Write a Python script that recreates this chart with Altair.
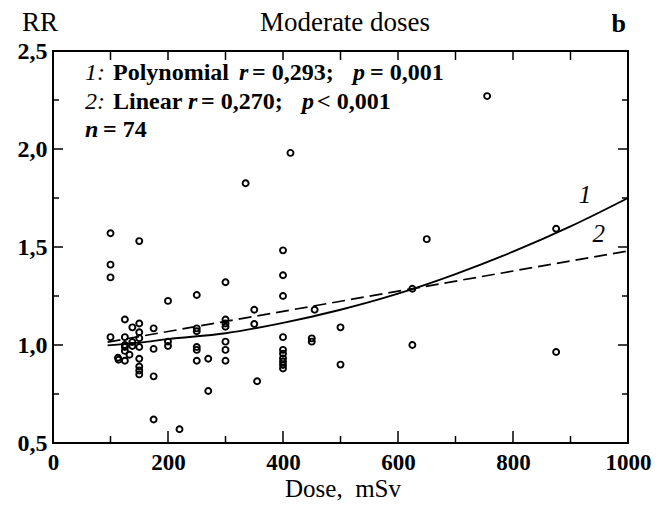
import altair as alt
import pandas as pd

# ---------------- data ----------------
dose = [100, 100, 100, 100, 150, 200, 250, 125, 138, 150,
        175, 125, 125, 125, 138, 150, 175, 200, 200, 250,
        250, 250, 250, 114, 125, 133, 150, 150, 150, 150,
        175, 175, 220, 270, 270, 413, 335, 400, 400, 400,
        300, 350, 300, 300, 300, 350, 455, 300, 300, 300,
        355, 400, 400, 400, 400, 400, 400, 450, 450, 650,
        625, 500, 500, 625, 875, 875, 755, 150, 150, 138,
        125, 113, 250, 400]
rr = [1.57, 1.41, 1.345, 1.04, 1.53, 1.225, 1.255, 1.13, 1.09, 1.11,
      1.085, 1.04, 0.99, 0.97, 0.995, 0.99, 0.98, 1.017, 0.995, 1.085,
      1.07, 0.975, 0.92, 0.925, 0.92, 0.95, 0.93, 0.89, 0.87, 0.85,
      0.84, 0.62, 0.57, 0.93, 0.765, 1.98, 1.825, 1.483, 1.356, 1.25,
      1.32, 1.18, 1.13, 1.11, 1.093, 1.107, 1.18, 1.017, 0.975, 0.92,
      0.815, 1.04, 0.975, 0.955, 0.932, 0.898, 0.88, 1.034, 1.017, 1.54,
      1.287, 1.09, 0.90, 1.0, 1.593, 0.964, 2.27, 1.065, 1.035, 1.015,
      1.0, 0.935, 0.99, 0.915]

poly_dose = [95, 150, 200, 300, 400, 500, 600, 700, 800, 900, 1000]
poly_rr = [0.998, 1.012, 1.03, 1.06, 1.113, 1.18, 1.262, 1.362, 1.476, 1.605, 1.75]

lin_dose = [95, 1000]
lin_rr = [1.015, 1.48]

curve_label = ["1", "2"]
curve_label_dose = [925, 949]
curve_label_rr = [1.765, 1.566]

x_labels = [0, 200, 400, 600, 800, 1000]
y_labels = [0.5, 1.0, 1.5, 2.0, 2.5]
x_major_ticks = [200, 400, 600, 800]
x_minor_ticks = [100, 300, 500, 700, 900]
y_major_ticks = [1.0, 1.5, 2.0]
y_minor_ticks = [0.75, 1.25, 1.75, 2.25]

title_text = "Moderate doses"
x_title = "Dose,\u00a0 mSv"
y_title = "RR"
panel_letter = "b"

# annotation pieces: (text, italic, bold)
ann_line1 = [("1:", True, False), ("Polynomial", False, True), ("r", True, True),
             ("= 0,293;", False, True), ("p", True, True), ("= 0,001", False, True)]
ann_line2 = [("2:", True, False), ("Linear", False, True), ("r", True, True),
             ("= 0,270;", False, True), ("p", True, True), ("< 0,001", False, True)]
ann_line3 = [("n", True, True), ("= 74", False, True)]

# ---------------- layout ----------------
W, H = 575, 392
FONT = "Liberation Serif"
ann_x1 = [32, 60, 186, 199, 300, 317]
ann_x2 = [32, 60, 135, 148, 249, 264]
ann_x3 = [32, 50]
ann_y = [29, 58, 86]

xscale = alt.Scale(domain=[0, 1000], nice=False, zero=False)
yscale = alt.Scale(domain=[0.5, 2.5], nice=False, zero=False)

xaxis = alt.Axis(values=x_labels, ticks=False, domain=False, grid=False,
                 labelFont=FONT, labelFontSize=23, labelFontWeight="bold",
                 labelColor="black", labelPadding=8, labelFlush=False,
                 labelOverlap=False, title=None, labelExpr="toString(datum.value)")
yaxis = alt.Axis(values=y_labels, ticks=False, domain=False, grid=False,
                 labelFont=FONT, labelFontSize=24, labelFontWeight="bold",
                 labelColor="black", labelPadding=6, labelFlush=False,
                 labelOverlap=False, title=None,
                 labelExpr="replace(format(datum.value, '.1f'), '.', ',')")


def X(f):
    return alt.X(f, type="quantitative", scale=xscale, axis=xaxis)


def Y(f):
    return alt.Y(f, type="quantitative", scale=yscale, axis=yaxis)


pts_df = pd.DataFrame({"dose": dose, "rr": rr})
points = alt.Chart(pts_df).mark_point(shape="circle", filled=False, color="black",
                                      strokeWidth=1.9, size=36, opacity=1).encode(
    x=X("dose"), y=Y("rr"))

poly = alt.Chart(pd.DataFrame({"dose": poly_dose, "rr": poly_rr})).mark_line(
    color="black", strokeWidth=1.9, interpolate="monotone").encode(x=X("dose"), y=Y("rr"))

lin = alt.Chart(pd.DataFrame({"dose": lin_dose, "rr": lin_rr})).mark_line(
    color="black", strokeWidth=1.7, strokeDash=[13, 6]).encode(x=X("dose"), y=Y("rr"))

labels = alt.Chart(pd.DataFrame({"t": curve_label, "dose": curve_label_dose,
                                 "rr": curve_label_rr})).mark_text(
    font=FONT, fontSize=25, fontStyle="italic", color="black", baseline="middle").encode(
    x=X("dose"), y=Y("rr"), text="t:N")

tick_layers = []
for vals, ln in [(x_major_ticks, 12), (x_minor_ticks, 7)]:
    d = pd.DataFrame({"v": vals})
    tick_layers.append(alt.Chart(d).mark_rule(color="black", strokeWidth=1.5).encode(
        x=X("v"), y=alt.value(H), y2=alt.value(H - ln)))
tick_layers.append(alt.Chart(pd.DataFrame({"v": x_major_ticks + x_minor_ticks})).mark_rule(
    color="black", strokeWidth=1.5).encode(x=X("v"), y=alt.value(0), y2=alt.value(9)))
for vals, ln in [(y_major_ticks, 10), (y_minor_ticks, 6)]:
    d = pd.DataFrame({"v": vals})
    tick_layers.append(alt.Chart(d).mark_rule(color="black", strokeWidth=1.5).encode(
        y=Y("v"), x=alt.value(0), x2=alt.value(ln)))
    tick_layers.append(alt.Chart(d).mark_rule(color="black", strokeWidth=1.5).encode(
        y=Y("v"), x=alt.value(W), x2=alt.value(W - ln)))


def txt(s, x, y, size, italic=False, bold=False, align="left"):
    return alt.Chart(pd.DataFrame({"t": [s]})).mark_text(
        font=FONT, fontSize=size, fontStyle="italic" if italic else "normal",
        fontWeight="bold" if bold else "normal", align=align, baseline="alphabetic",
        color="black").encode(x=alt.value(x), y=alt.value(y), text="t:N")


text_layers = [
    txt(title_text, 292, -20, 27, align="center"),
    txt(y_title, -31, -20, 27),
    txt(panel_letter, 573, -19, 26, bold=True, align="right"),
    txt(x_title, 290, 446, 25, align="center"),
]

for line, xs, yy in [(ann_line1, ann_x1, ann_y[0]), (ann_line2, ann_x2, ann_y[1]),
                     (ann_line3, ann_x3, ann_y[2])]:
    for (s, it, bd), xx in zip(line, xs):
        text_layers.append(txt(s, xx, yy, 24, italic=it, bold=bd))

chart = alt.layer(points, poly, lin, labels, *tick_layers, *text_layers).properties(
    width=W, height=H,
    autosize=alt.AutoSizeParams(type="none"),
    padding={"left": 45, "top": 43, "right": 29, "bottom": 58},
    background="white",
).configure_view(stroke="black", strokeWidth=2)

chart.save("out.html", embed_options={"renderer": "svg", "actions": False})
